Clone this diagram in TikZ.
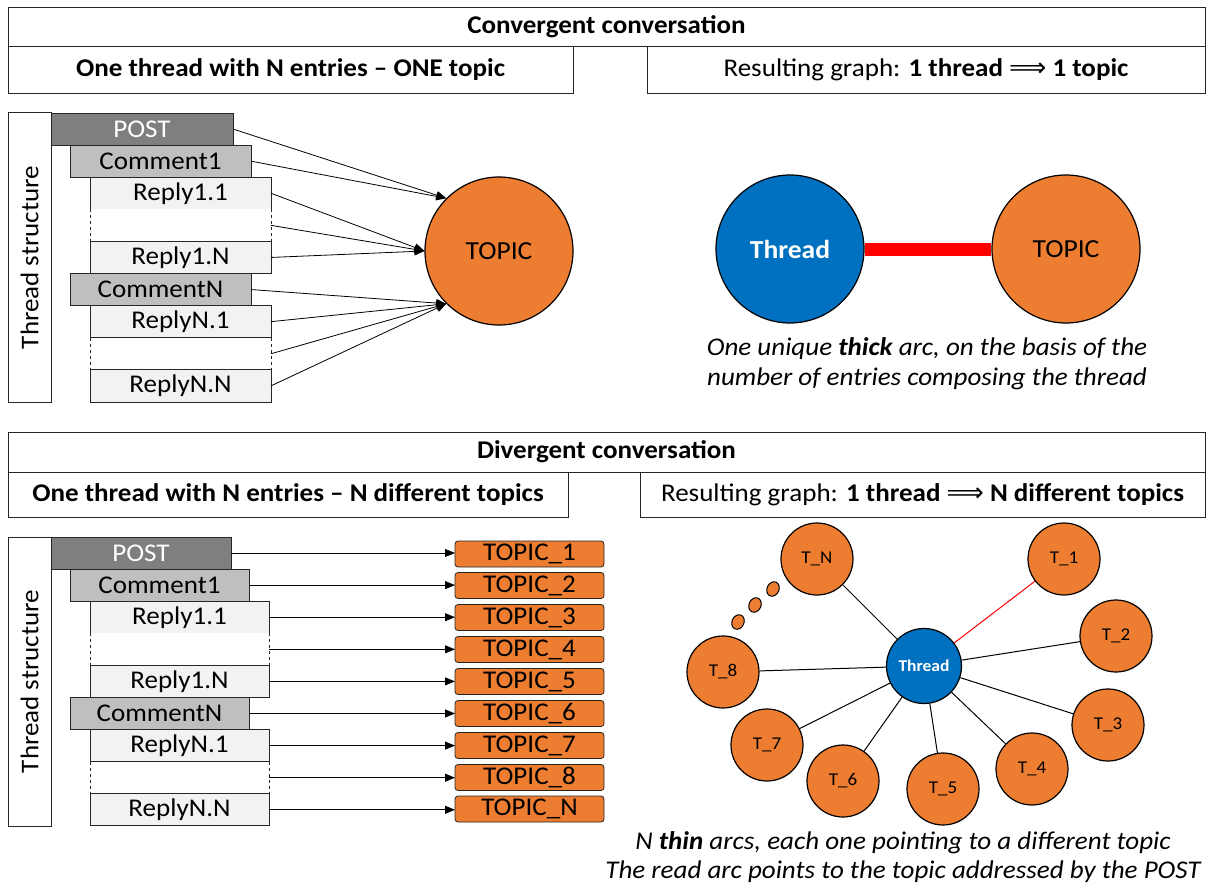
\documentclass[tikz,border=0pt]{standalone}
\usepackage{fontspec}
\setmainfont[FakeStretch=1.06]{Carlito}
\newfontfamily\symfont{DejaVu Sans}
\usetikzlibrary{arrows.meta,shapes.geometric}
\definecolor{orng}{HTML}{ED7D31}
\definecolor{blu}{HTML}{0070C0}
\definecolor{postc}{HTML}{7F7F7F}
\definecolor{commc}{HTML}{BFBFBF}
\definecolor{replc}{HTML}{F2F2F2}
\newcommand{\fs}[1]{\fontsize{#1}{#1}\selectfont}
\newcommand{\implarrow}{{\symfont\mdseries\fs{26}⟹}}
\begin{document}
\begin{tikzpicture}[x=1pt,y=-1pt,
  frame/.style={draw=black!85, line width=0.8pt, inner sep=0pt, outer sep=0pt},
  hdr/.style={frame, font=\fs{25.5}\bfseries},
  sub/.style={frame, font=\fs{25.5}},
  entry/.style={frame, minimum height=32.1pt, font=\fs{25.5}},
  postbox/.style={entry, fill=postc, text=white, minimum width=182pt},
  commbox/.style={entry, fill=commc, minimum width=181pt},
  replbox/.style={entry, fill=replc, minimum width=181pt},
  gapbox/.style={minimum height=32.1pt, minimum width=181pt, inner sep=0pt, outer sep=0pt, fill=white},
  gapside/.style={black!85, line width=0.8pt, dashed},
  tsbox/.style={frame, rotate=90, minimum width=290pt, minimum height=43pt, font=\fs{25.5}},
  topicbox/.style={frame, fill=orng, rounded corners=3pt, minimum width=149pt, minimum height=26pt, font=\fs{25.5}},
  arr/.style={-{Triangle[length=10pt,width=8pt]}, line width=0.8pt},
  bigc/.style={circle, draw, line width=1.2pt, minimum size=148pt, inner sep=0pt, font=\fs{26}},
  tnode/.style={circle, draw, line width=1.2pt, fill=orng, minimum size=72pt, inner sep=0pt, font=\fs{18}},
  dotn/.style={ellipse, draw, line width=1pt, fill=orng, minimum width=12pt, minimum height=15pt, inner sep=0pt},
  link/.style={line width=1pt},
  captext/.style={align=center}
]
\useasboundingbox (0,0) rectangle (1208,888);

% ================= Convergent =================
\node[hdr, minimum width=1197pt, minimum height=39pt] (h1) at (606.5,26.5) {Convergent conversation};
\node[hdr, minimum width=565pt, minimum height=47pt] (s1l) at (290.5,69.5) {One thread with N entries -- ONE topic};
\node[sub, minimum width=558pt, minimum height=47pt] (s1r) at (926,69.5) {Resulting graph: \textbf{1 thread} \implarrow{} \textbf{1 topic}};

\node[tsbox] (ts1) at (29.5,257.5) {Thread structure};

\node[postbox] (p1) at (142,129.05) {POST};
\node[commbox] (c11) at (160.5,161.15) {Comment1};
\node[replbox] (r11) at (180.5,193.25) {Reply1.1};
\node[gapbox] (g11) at (180.5,225.35) {};
\node[replbox] (r1n) at (180.5,257.45) {Reply1.N};
\node[commbox] (c1n) at (160.5,289.55) {CommentN};
\node[replbox] (rn1) at (180.5,321.65) {ReplyN.1};
\node[gapbox] (g1n) at (180.5,353.75) {};
\node[replbox] (rnn) at (180.5,385.85) {ReplyN.N};
\draw[gapside] (g11.north west) -- (g11.south west);
\draw[gapside] (g11.north east) -- (g11.south east);
\draw[gapside] (g1n.north west) -- (g1n.south west);
\draw[gapside] (g1n.north east) -- (g1n.south east);

\node[bigc, fill=orng] (topic) at (499,251) {TOPIC};

\draw[arr] (p1.east) -- (topic.135);
\draw[arr] (c11.east) -- (topic.135);
\draw[arr] (r11.east) -- (topic.180);
\draw[arr] (g11.east) -- (topic.180);
\draw[arr] (r1n.east) -- (topic.180);
\draw[arr] (c1n.east) -- (topic.225);
\draw[arr] (rn1.east) -- (topic.225);
\draw[arr] (g1n.east) -- (topic.225);
\draw[arr] (rnn.east) -- (topic.225);

\node[bigc, fill=blu, text=white, font=\fs{26}\bfseries] (thr1) at (790,249) {Thread};
\node[bigc, fill=orng] (topic2) at (1066,249) {TOPIC};
\draw[red, line width=13pt] (thr1.east) -- (topic2.west);
\node[captext, font=\fontsize{25.5}{30}\selectfont\itshape] (cap1) at (927,364) {One unique \textbf{thick} arc, on the basis of the\\number of entries composing the thread};

% ================= Divergent =================
\node[hdr, minimum width=1197pt, minimum height=40pt] (h2) at (606.5,452) {Divergent conversation};
\node[hdr, minimum width=560pt, minimum height=45pt] (s2l) at (288,494.5) {One thread with N entries -- N different topics};
\node[sub, minimum width=565pt, minimum height=45pt] (s2r) at (922.5,494.5) {Resulting graph: \textbf{1 thread} \implarrow{} \textbf{N different topics}};

\node[tsbox, minimum width=289pt] (ts2) at (29.5,681.5) {Thread structure};

\node[postbox, minimum width=180pt] (p2) at (141,553) {POST};
\node[commbox, minimum width=179pt] (c21) at (159.5,585.1) {Comment1};
\node[replbox, minimum width=179pt] (r21) at (179.5,617.2) {Reply1.1};
\node[gapbox, minimum width=179pt] (g21) at (179.5,649.3) {};
\node[replbox, minimum width=179pt] (r2n) at (179.5,681.4) {Reply1.N};
\node[commbox, minimum width=179pt] (c2n) at (159.5,713.5) {CommentN};
\node[replbox, minimum width=179pt] (rm1) at (179.5,745.6) {ReplyN.1};
\node[gapbox, minimum width=179pt] (g2n) at (179.5,777.7) {};
\node[replbox, minimum width=179pt] (rmn) at (179.5,809.8) {ReplyN.N};
\draw[gapside] (g21.north west) -- (g21.south west);
\draw[gapside] (g21.north east) -- (g21.south east);
\draw[gapside] (g2n.north west) -- (g2n.south west);
\draw[gapside] (g2n.north east) -- (g2n.south east);

\node[topicbox] (tb1) at (529.5,554) {TOPIC\_1};
\node[topicbox] (tb2) at (529.5,585.5) {TOPIC\_2};
\node[topicbox] (tb3) at (529.5,617.5) {TOPIC\_3};
\node[topicbox] (tb4) at (529.5,649.5) {TOPIC\_4};
\node[topicbox] (tb5) at (529.5,681.5) {TOPIC\_5};
\node[topicbox] (tb6) at (529.5,713.5) {TOPIC\_6};
\node[topicbox] (tb7) at (529.5,745.5) {TOPIC\_7};
\node[topicbox] (tb8) at (529.5,777.5) {TOPIC\_8};
\node[topicbox] (tbn) at (529.5,809) {TOPIC\_N};

\draw[arr] (p2.east) -- (p2.east -| tb1.west);
\draw[arr] (c21.east) -- (c21.east -| tb2.west);
\draw[arr] (r21.east) -- (r21.east -| tb3.west);
\draw[arr] (g21.east) -- (g21.east -| tb4.west);
\draw[arr] (r2n.east) -- (r2n.east -| tb5.west);
\draw[arr] (c2n.east) -- (c2n.east -| tb6.west);
\draw[arr] (rm1.east) -- (rm1.east -| tb7.west);
\draw[arr] (g2n.east) -- (g2n.east -| tb8.west);
\draw[arr] (rmn.east) -- (rmn.east -| tbn.west);

% graph
\node[circle, draw, line width=1.2pt, fill=blu, text=white, minimum size=75pt, inner sep=0pt, font=\fs{16.5}\bfseries] (thr2) at (924,666) {Thread};
\node[tnode] (t1) at (1064,559) {T\_1};
\node[tnode] (t2) at (1116,636) {T\_2};
\node[tnode] (t3) at (1108,725) {T\_3};
\node[tnode] (t4) at (1032,769) {T\_4};
\node[tnode] (t5) at (943,789) {T\_5};
\node[tnode] (t6) at (843,781) {T\_6};
\node[tnode] (t7) at (767,745) {T\_7};
\node[tnode] (t8) at (723,672) {T\_8};
\node[tnode] (tn) at (817,559) {T\_N};
\node[dotn, rotate=-25] (d1) at (773,589) {};
\node[dotn, rotate=-25] (d2) at (755,605) {};
\node[dotn, rotate=-25] (d3) at (738,622) {};

\draw[link, red] (thr2) -- (t1);
\draw[link] (thr2) -- (t2);
\draw[link] (thr2) -- (t3);
\draw[link] (thr2) -- (t4);
\draw[link] (thr2) -- (t5);
\draw[link] (thr2) -- (t6);
\draw[link] (thr2) -- (t7);
\draw[link] (thr2) -- (t8);
\draw[link] (thr2) -- (tn);

\node[captext, font=\fontsize{25.5}{29}\selectfont\itshape] (cap2) at (903,857.5) {N \textbf{thin} arcs, each one pointing to a different topic\\The read arc points to the topic addressed by the POST};
\end{tikzpicture}
\end{document}
